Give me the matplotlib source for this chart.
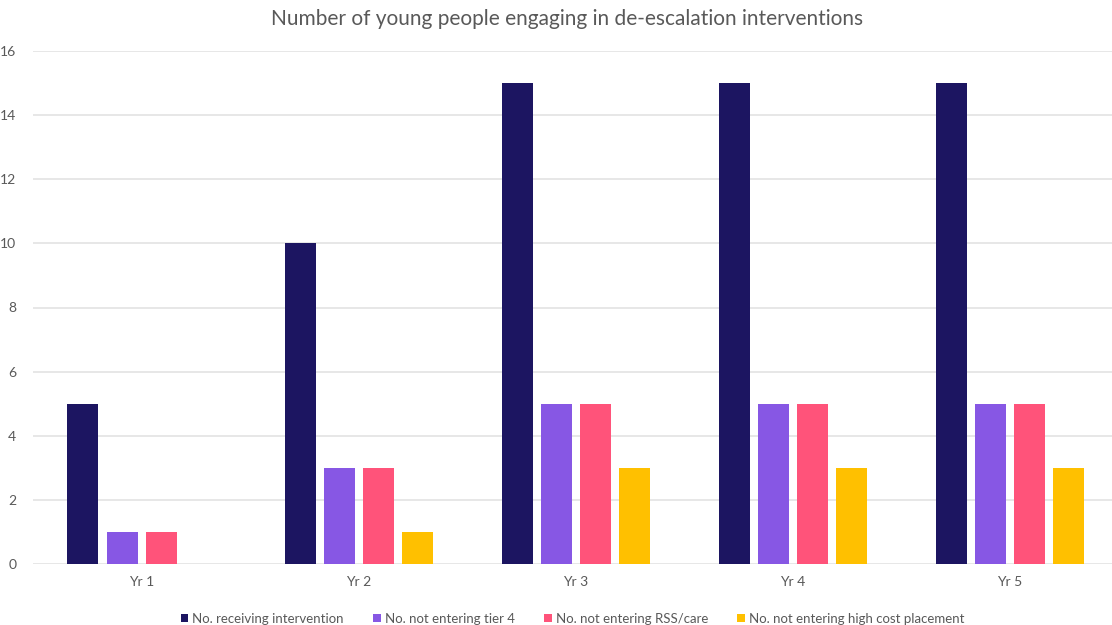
import numpy as np
import matplotlib.pyplot as plt

years = ["Yr 1", "Yr 2", "Yr 3", "Yr 4", "Yr 5"]
receiving = [5, 10, 15, 15, 15]
not_tier4 = [1, 3, 5, 5, 5]
not_rss = [1, 3, 5, 5, 5]
not_high_cost = [0, 1, 3, 3, 3]

series_names = ["No. receiving intervention", "No. not entering tier 4",
                "No. not entering RSS/care", "No. not entering high cost placement"]
colors = ["#1c1561", "#8757e4", "#ff537a", "#ffc000"]

plt.rcParams['font.family'] = ['Lato', 'DejaVu Sans']

fig = plt.figure(figsize=(11.12, 6.25), dpi=100)
ax = fig.add_axes([0.0297, 0.0976, 0.9703, 0.8208])

x = np.arange(len(years))
pitch = 0.18
width = 0.143
for i, (vals, name, c) in enumerate(zip([receiving, not_tier4, not_rss, not_high_cost], series_names, colors)):
    ax.bar(x + (i - 1.5) * pitch, vals, width, color=c, label=name, zorder=3)

ax.set_xlim(-0.5, 4.47)
ax.set_ylim(0, 16)
ax.set_yticks(range(0, 17, 2))
ax.set_xticks(x)
ax.set_xticklabels(years)
ax.tick_params(axis='both', length=0, colors='#595959', labelsize=10)
ax.tick_params(axis='y', pad=12)
ax.tick_params(axis='x', pad=9)
ax.grid(axis='y', color='#e3e3e3', linewidth=1.2, zorder=0)
for s in ax.spines.values():
    s.set_visible(False)

fig.suptitle("Number of young people engaging in de-escalation interventions",
             x=0.51, y=0.985, fontsize=15, color='#595959')

ax.legend(loc='upper center', bbox_to_anchor=(0.5, -0.072), ncol=4, frameon=False,
          fontsize=9.5, labelcolor='#595959', handlelength=0.6, handleheight=0.6,
          handletextpad=0.3, columnspacing=2.2)

fig.savefig("out.png", dpi=100)
